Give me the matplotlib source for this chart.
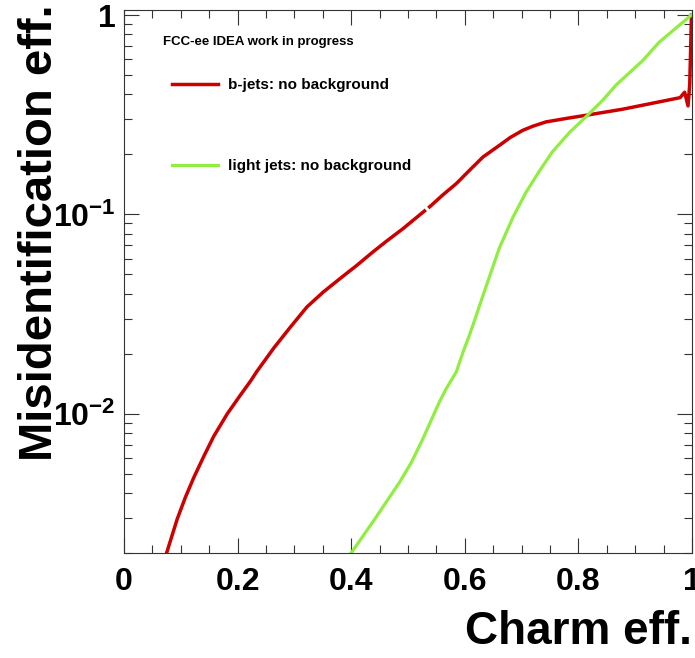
import numpy as np
import matplotlib
matplotlib.use("Agg")
import matplotlib.pyplot as plt
from matplotlib.ticker import FixedLocator, FixedFormatter, LogLocator, NullFormatter

plt.rcParams['font.family'] = ['Liberation Sans', 'DejaVu Sans']
plt.rcParams['font.weight'] = 'bold'
plt.rcParams['mathtext.fontset'] = 'custom'
plt.rcParams['mathtext.rm'] = 'Liberation Sans:bold'
plt.rcParams['mathtext.default'] = 'rm'

# b-jets: charm efficiency vs misidentification (gap in the original curve near 0.53)
eff_b = [0.075, 0.0937, 0.108, 0.123, 0.141, 0.158, 0.182, 0.205, 0.223, 0.234,
         0.264, 0.293, 0.322, 0.351, 0.387, 0.41, 0.438, 0.462, 0.491, 0.529,
         np.nan, 0.538, 0.561, 0.585, 0.608, 0.632, 0.661, 0.68, 0.702, 0.72,
         0.743, 0.779, 0.813, 0.878, 0.979, 0.987, 0.993, 0.996, 0.998, 0.999]
mis_b = [0.0020, 0.00296, 0.0038, 0.00479, 0.00615, 0.0077, 0.0100, 0.0124, 0.0146, 0.0163,
         0.0214, 0.0272, 0.0343, 0.0408, 0.0493, 0.0555, 0.0647, 0.0733, 0.0847, 0.104,
         np.nan, 0.109, 0.125, 0.1426, 0.166, 0.194, 0.222, 0.243, 0.264, 0.277,
         0.291, 0.303, 0.314, 0.337, 0.385, 0.41, 0.35, 0.45, 0.75, 1.0]

# light jets
eff_l = [0.40, 0.443, 0.469, 0.485, 0.506, 0.526, 0.555, 0.567, 0.585, 0.597,
         0.608, 0.62, 0.632, 0.661, 0.685, 0.708, 0.732, 0.754, 0.784, 0.816,
         0.843, 0.866, 0.913, 0.942, 0.999]
mis_l = [0.0020, 0.0030, 0.00387, 0.00452, 0.0057, 0.00746, 0.0114, 0.0133, 0.0162, 0.0204,
         0.0247, 0.031, 0.0392, 0.068, 0.097, 0.1294, 0.166, 0.2056, 0.257, 0.314,
         0.374, 0.445, 0.59, 0.73, 1.0]

x_ticks = [0, 0.2, 0.4, 0.6, 0.8, 1.0]
x_labels = ['0', '0.2', '0.4', '0.6', '0.8', '1']
y_ticks = [0.01, 0.1, 1.0]
y_labels = [r'$10^{-2}$', r'$10^{-1}$', '1']

fig = plt.figure(figsize=(6.95, 6.58), dpi=100)
ax = fig.add_axes([0.1784, 0.1596, 0.8173, 0.8252])

ax.plot(eff_b, mis_b, color='#CC0000', lw=2.5, label='b-jets: no background')
ax.plot(eff_l, mis_l, color='#90EE40', lw=2.3, label='light jets: no background')

ax.set_yscale('log')
ax.set_xlim(0, 1)
ax.set_ylim(0.002, 1.06)

ax.xaxis.set_major_locator(FixedLocator(x_ticks))
ax.xaxis.set_major_formatter(FixedFormatter(x_labels))
ax.xaxis.set_minor_locator(FixedLocator(np.arange(0, 1.001, 0.05)))
ax.yaxis.set_major_locator(FixedLocator(y_ticks))
ax.yaxis.set_major_formatter(FixedFormatter(y_labels))
ax.yaxis.set_minor_locator(LogLocator(base=10, subs=np.arange(2, 10)))
ax.yaxis.set_minor_formatter(NullFormatter())

ax.tick_params(which='both', direction='in', top=True, right=True,
               color='#333333', width=0.8)
ax.tick_params(which='major', length=11, labelsize=23)
ax.tick_params(which='minor', length=6)
ax.tick_params(axis='x', pad=10)
ax.tick_params(axis='y', pad=6)
for s in ax.spines.values():
    s.set_color('#333333')
    s.set_linewidth(0.8)

ax.set_xlabel('Charm eff.', fontsize=33, fontweight='bold', loc='right')
ax.xaxis.set_label_coords(1.0, -0.105)
ax.set_ylabel('Misidentification eff.', fontsize=34, fontweight='bold', loc='top')
ax.yaxis.set_label_coords(-0.11, 1.01)

ax.text(0.0687, 0.941, 'FCC-ee IDEA work in progress', transform=ax.transAxes,
        fontsize=9.5, fontweight='bold', va='center', ha='left')

ax.legend(loc='upper left', bbox_to_anchor=(0.0845, 0.875), frameon=False,
          fontsize=11, labelspacing=4.4, handlelength=3.0, handletextpad=0.65,
          borderpad=0, borderaxespad=0)

fig.savefig('out.png', dpi=100)
